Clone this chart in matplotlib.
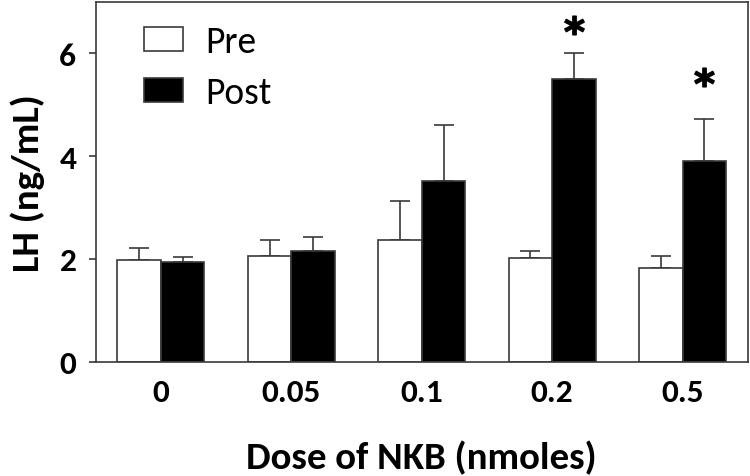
import matplotlib
matplotlib.use("Agg")
import matplotlib.pyplot as plt
import numpy as np

doses = ["0", "0.05", "0.1", "0.2", "0.5"]
pre = [1.97, 2.05, 2.37, 2.02, 1.82]
pre_err = [0.25, 0.31, 0.76, 0.13, 0.23]
post = [1.94, 2.16, 3.52, 5.49, 3.90]
post_err = [0.09, 0.27, 1.08, 0.52, 0.81]
star_y = [np.nan, np.nan, np.nan, 6.55, 5.54]

plt.rcParams['font.family'] = ['Carlito', 'Lato', 'DejaVu Sans']

fig = plt.figure(figsize=(7.5, 4.77), dpi=100)
ax = fig.add_axes([0.1276, 0.2396, 0.997 - 0.1276, 0.9943 - 0.2396])

x = np.arange(len(doses))
w = 0.334
ec = '#3a3a3a'
ax.bar(x - w/2, pre, w, color='white', edgecolor=ec, linewidth=1.2, label='Pre', zorder=2)
ax.bar(x + w/2, post, w, color='black', edgecolor=ec, linewidth=1.2, label='Post', zorder=2)
ax.errorbar(x - w/2, pre, yerr=[np.zeros(len(pre)), pre_err], fmt='none',
            ecolor=ec, elinewidth=1.2, capsize=7, capthick=1.2, zorder=1)
ax.errorbar(x + w/2, post, yerr=[np.zeros(len(post)), post_err], fmt='none',
            ecolor=ec, elinewidth=1.2, capsize=7, capthick=1.2, zorder=1)

ax.plot(x + w/2, star_y, linestyle='none', marker=r'$\mathbf{*}$', markersize=14,
        color='black', zorder=3)

ax.set_xlim(-0.5, 4.5)
ax.set_ylim(0, 7)
ax.set_yticks([0, 2, 4, 6])
ax.set_xticks(x)
ax.set_xticklabels(doses)
ax.tick_params(axis='x', length=0, pad=12, labelsize=24)
ax.tick_params(axis='y', length=5, width=1.2, pad=9, labelsize=24, color=ec)
for lab in ax.get_xticklabels() + ax.get_yticklabels():
    lab.set_fontweight('bold')
for sp in ax.spines.values():
    sp.set_linewidth(1.2)
    sp.set_color(ec)

ax.set_xlabel('Dose of NKB (nmoles)', fontsize=28, fontweight='bold', labelpad=24)
ax.set_ylabel('LH (ng/mL)', fontsize=28, fontweight='bold', labelpad=10)

ax.legend(loc='upper left', frameon=False, fontsize=27, handlelength=1.04,
          handleheight=0.61, handletextpad=0.6, labelspacing=0.47,
          borderaxespad=0.0, borderpad=0.0, bbox_to_anchor=(0.074, 0.935))

fig.savefig('out.png', dpi=100)
